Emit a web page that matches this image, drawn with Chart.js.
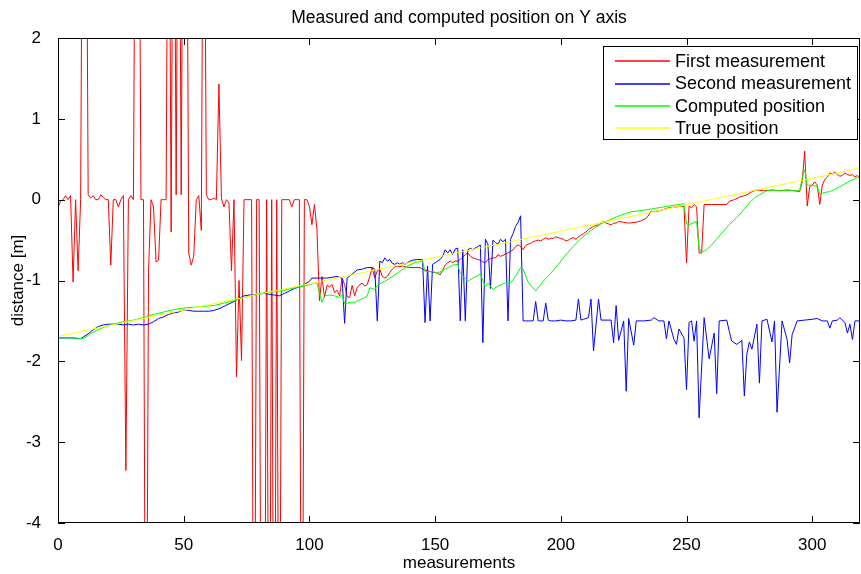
<!DOCTYPE html>
<html>
<head>
<meta charset="utf-8">
<script src="https://cdn.jsdelivr.net/npm/chart.js@4/dist/chart.umd.min.js"></script>
<style>
  html, body { margin: 0; padding: 0; background: #fff; }
  canvas { display: block; }
</style>
</head>
<body>
<canvas id="chart" width="861" height="574"></canvas>
<script>
const firstMeasurement = [
  [0,-0.1],[1,-0.02],[2,0],[3,0.05],[4,0],[5,0.05],[6,-1.02],[7,0],[8,-0.88],[9,0],
  [10,6],[11,6],[12,0.06],[13,0.02],[14,0.05],[15,0],[16,0],[17,0.06],[18,0.03],[19,0],
  [20,0],[21,-0.81],[22,0],[23,0],[24,-0.09],[25,0],[26,0.05],[27,-3.35],[28,0],[29,0.05],
  [30,0],[31,6],[32,6],[33,0],[34,0],[35,-8],[36,-0.9],[37,0],[38,-0.09],[39,-0.77],
  [40,-0.75],[41,0],[42,0],[43,0],[44,6],[45,-0.4],[46,6],[47,0.06],[48,6],[49,0.06],
  [50,6],[51,6],[52,-0.66],[53,-0.81],[54,-0.7],[55,0],[56,0.05],[57,-0.38],[58,6],[59,0.06],
  [60,0],[61,0],[62,0.02],[63,0],[64,1.43],[65,0.02],[66,-0.09],[67,0],[68,-0.04],[69,-0.88],
  [70,0],[71,-2.19],[72,-1.0],[73,-1.99],[74,0],[75,0],[76,0],[77,0],[78,-8],[79,0],
  [80,0],[81,-8],[82,-8],[83,0],[84,-8],[85,0],[86,-8],[87,0],[88,-8],[89,0],
  [90,0],[91,0],[92,0],[93,-0.09],[94,0],[95,0],[96,0],[97,-8],[98,0],[99,0],
  [100,-0.08],[101,-0.31],[102,-0.06],[103,-0.37],[104,-1.25],[105,-0.95],[106,-1.21],[107,-1.06],[108,-1.08],[109,-1.05],
  [110,-1.15],[111,-1.12],[112,-1.19],[113,-0.97],[114,-1.05],[115,-1.2],[116,-1.21],[117,-1.06],[118,-1.19],[119,-1.09],
  [120,-1.05],[121,-1.03],[122,-1.07],[123,-1.05],[124,-0.95],[125,-0.84],[126,-0.97],[127,-0.88],[128,-0.86],[129,-0.95],
  [130,-0.97],[131,-0.95],[132,-0.9],[133,-0.86],[134,-0.83],[135,-0.82],[136,-0.83],[137,-0.82],[138,-0.83],[140,-0.84],
  [142,-0.84],[144,-0.84],[145,-0.86],[146,-0.87],[148,-0.89],[150,-0.9],[151,-0.91],[152,-0.93],[153,-0.87],[154,-0.81],
  [155,-0.78],[156,-0.76],[157,-0.78],[158,-0.76],[159,-0.76],[160,-0.74],[161,-0.71],[162,-0.68],[163,-0.66],[164,-0.7],
  [165,-0.72],[166,-0.73],[167,-0.74],[168,-0.75],[169,-0.77],[170,-0.78],[171,-0.74],[172,-0.73],[173,-0.72],[174,-0.72],
  [175,-0.68],[176,-0.7],[177,-0.69],[178,-0.67],[179,-0.66],[180,-0.64],[181,-0.62],[182,-0.58],[183,-0.56],[184,-0.58],
  [185,-0.62],[186,-0.57],[187,-0.55],[188,-0.54],[189,-0.52],[190,-0.51],[191,-0.5],[192,-0.51],[193,-0.49],[194,-0.47],
  [195,-0.49],[196,-0.48],[197,-0.48],[198,-0.46],[199,-0.47],[200,-0.48],[201,-0.49],[202,-0.51],[203,-0.5],[204,-0.48],
  [205,-0.47],[206,-0.49],[207,-0.46],[208,-0.44],[209,-0.42],[210,-0.4],[211,-0.37],[212,-0.35],[213,-0.33],[214,-0.32],
  [215,-0.31],[216,-0.29],[217,-0.27],[218,-0.29],[219,-0.3],[220,-0.31],[221,-0.29],[222,-0.29],[223,-0.27],[225,-0.28],
  [227,-0.29],[230,-0.28],[232,-0.26],[234,-0.23],[235,-0.19],[236,-0.14],[237,-0.15],[239,-0.14],[241,-0.12],[243,-0.1],
  [246,-0.09],[248,-0.08],[249,-0.09],[250,-0.78],[251,-0.08],[252,-0.1],[253,-0.06],[254,-0.09],[255,-0.66],[256,-0.66],
  [257,-0.06],[260,-0.06],[263,-0.06],[266,-0.06],[267,-0.02],[269,0],[271,0.03],[274,0.06],[276,0.1],[278,0.12],
  [281,0.11],[284,0.12],[287,0.11],[290,0.12],[293,0.11],[295,0.1],[296,0.22],[297,0.6],[298,-0.08],[299,0.16],
  [300,0.18],[301,0.22],[302,0.18],[303,-0.06],[304,0.18],[305,0.25],[306,0.28],[307,0.33],[308,0.32],[309,0.34],
  [310,0.31],[311,0.29],[312,0.3],[313,0.33],[314,0.31],[315,0.3],[316,0.31],[317,0.28],[318,0.3],[319,0.26]
];

const secondMeasurement = [
  [0,-1.71],[2,-1.71],[4,-1.71],[6,-1.71],[8,-1.72],[9,-1.72],[10,-1.7],[12,-1.66],[14,-1.61],[16,-1.57],
  [18,-1.55],[20,-1.54],[22,-1.54],[24,-1.54],[26,-1.55],[28,-1.54],[30,-1.55],[32,-1.54],[34,-1.55],[36,-1.54],
  [38,-1.51],[40,-1.47],[42,-1.45],[44,-1.42],[46,-1.4],[48,-1.39],[50,-1.36],[52,-1.37],[54,-1.38],[56,-1.38],
  [58,-1.38],[60,-1.38],[62,-1.37],[64,-1.35],[66,-1.32],[68,-1.29],[70,-1.26],[72,-1.22],[74,-1.19],[76,-1.18],
  [78,-1.18],[80,-1.17],[82,-1.16],[84,-1.17],[86,-1.18],[88,-1.19],[90,-1.16],[92,-1.13],[94,-1.1],[96,-1.08],
  [98,-1.05],[100,-1.01],[101,-0.97],[103,-0.97],[105,-0.97],[107,-0.97],[109,-0.96],[111,-0.95],[113,-0.97],[114,-1.53],
  [115,-0.97],[117,-0.92],[119,-0.87],[121,-0.86],[123,-0.84],[125,-0.84],[126,-0.86],[127,-1.5],[128,-0.76],[129,-0.78],
  [130,-0.72],[131,-0.76],[132,-0.74],[133,-0.79],[134,-0.8],[135,-0.78],[136,-0.8],[137,-0.78],[138,-0.8],[139,-0.78],
  [140,-0.76],[141,-0.75],[143,-0.74],[145,-0.74],[146,-1.52],[147,-0.82],[148,-1.5],[149,-0.8],[150,-0.78],[151,-0.76],
  [152,-0.74],[153,-0.7],[154,-0.62],[155,-0.66],[156,-0.62],[157,-0.68],[158,-0.61],[159,-0.6],[160,-1.5],[161,-0.62],
  [162,-1.5],[163,-0.62],[164,-0.6],[165,-0.62],[166,-0.6],[167,-0.58],[168,-0.56],[169,-1.77],[170,-0.49],[171,-0.55],
  [172,-1.1],[173,-0.5],[174,-0.53],[175,-0.55],[176,-0.49],[177,-0.52],[178,-0.49],[179,-1.5],[180,-0.49],[181,-0.42],
  [182,-0.33],[183,-0.28],[184,-0.2],[185,-1.5],[186,-1.5],[187,-1.5],[188,-1.5],[189,-1.5],[190,-1.26],[191,-1.5],
  [192,-1.5],[193,-1.5],[194,-1.28],[195,-1.49],[196,-1.5],[198,-1.5],[200,-1.49],[202,-1.5],[204,-1.5],[206,-1.49],
  [207,-1.23],[208,-1.49],[209,-1.48],[210,-1.47],[211,-1.46],[212,-1.23],[213,-1.87],[215,-1.23],[216,-1.49],[218,-1.49],
  [220,-1.49],[221,-1.77],[222,-1.31],[223,-1.74],[225,-1.5],[226,-2.37],[227,-1.47],[229,-1.8],[230,-1.5],[233,-1.5],
  [236,-1.49],[237,-1.46],[239,-1.5],[241,-1.5],[242,-1.72],[243,-1.5],[245,-1.73],[246,-1.79],[247,-1.6],[249,-1.71],
  [250,-2.35],[251,-1.52],[252,-1.5],[253,-1.75],[254,-1.5],[255,-2.7],[257,-1.46],[259,-1.97],[261,-1.65],[262,-2.4],
  [263,-1.5],[266,-1.49],[267,-1.63],[268,-1.75],[270,-1.79],[272,-1.74],[273,-2.43],[274,-1.91],[275,-1.76],[276,-1.85],
  [278,-1.54],[279,-2.27],[280,-1.5],[282,-1.48],[284,-1.76],[285,-1.5],[286,-2.63],[288,-1.5],[290,-1.73],[291,-2.02],
  [292,-1.67],[294,-1.5],[297,-1.49],[300,-1.48],[302,-1.47],[304,-1.5],[306,-1.5],[307,-1.59],[308,-1.5],[310,-1.49],
  [311,-1.46],[313,-1.52],[314,-1.65],[315,-1.54],[316,-1.73],[317,-1.5],[319,-1.5]
];

const computedPosition = [
  [0,-1.71],[3,-1.71],[6,-1.71],[10,-1.72],[12,-1.68],[14,-1.64],[16,-1.61],[18,-1.58],[20,-1.56],[22,-1.54],
  [26,-1.51],[30,-1.49],[34,-1.46],[38,-1.42],[42,-1.39],[46,-1.36],[50,-1.34],[54,-1.33],[58,-1.32],[62,-1.31],
  [66,-1.28],[70,-1.25],[74,-1.21],[78,-1.18],[82,-1.15],[86,-1.14],[90,-1.12],[94,-1.09],[98,-1.07],[102,-1.03],
  [103,-1.03],[104,-1.15],[105,-1.27],[106,-1.19],[108,-1.18],[110,-1.19],[112,-1.21],[113,-1.17],[114,-1.29],[116,-1.27],
  [118,-1.27],[120,-1.24],[122,-1.21],[123,-1.19],[124,-1.09],[125,-1.1],[126,-1.11],[127,-1.06],[128,-1.04],[130,-1.01],
  [132,-0.97],[135,-0.91],[139,-0.82],[142,-0.78],[145,-0.76],[146,-0.89],[149,-0.89],[151,-0.91],[154,-0.86],[157,-0.81],
  [159,-0.8],[160,-0.91],[163,-1.01],[165,-0.97],[167,-0.94],[168,-0.92],[170,-1.08],[171,-1.03],[173,-1.11],[175,-1.07],
  [178,-1.03],[180,-1.03],[182,-0.95],[184,-0.84],[185,-0.86],[187,-1.02],[190,-1.13],[193,-1.01],[196,-0.91],[199,-0.8],
  [201,-0.72],[204,-0.61],[208,-0.48],[212,-0.38],[216,-0.3],[220,-0.24],[224,-0.19],[228,-0.15],[233,-0.13],[237,-0.11],
  [241,-0.09],[245,-0.07],[249,-0.05],[250,-0.3],[251,-0.31],[254,-0.27],[255,-0.6],[256,-0.65],[258,-0.62],[260,-0.56],
  [263,-0.45],[267,-0.31],[271,-0.19],[275,-0.04],[277,0.02],[279,0.06],[282,0.11],[286,0.11],[290,0.11],[295,0.11],
  [296,0.27],[297,0.37],[298,0.18],[300,0.18],[302,0.16],[303,0.07],[305,0.09],[307,0.1],[311,0.16],[315,0.23],
  [319,0.29]
];

const truePosition = [[0,-1.69],[100,-1.04],[200,-0.39],[319,0.39]];

const seriesNames = ['First measurement', 'Second measurement', 'Computed position', 'True position'];
const seriesColors = ['#ff0000', '#0000ff', '#00ff00', '#ffff00'];
const seriesData = [firstMeasurement, secondMeasurement, computedPosition, truePosition];

const xTicks = [0, 50, 100, 150, 200, 250, 300];
const yTicks = [-4, -3, -2, -1, 0, 1, 2];

const FONT = '"Liberation Sans", Arial, Helvetica, sans-serif';

// --- 축 테두리, 안쪽 눈금, 범례 ---
const matlabFrame = {
  id: 'matlabFrame',
  afterDraw(chart) {
    const { ctx, chartArea: a, scales } = chart;
    ctx.save();
    ctx.strokeStyle = '#000';
    ctx.lineWidth = 1;
    ctx.beginPath();
    ctx.rect(Math.round(a.left) + 0.5, Math.round(a.top) + 0.5,
      Math.round(a.right - a.left) - 1, Math.round(a.bottom - a.top) - 1);
    ctx.stroke();

    const tl = 7;
    ctx.beginPath();
    xTicks.forEach(v => {
      const px = Math.round(scales.x.getPixelForValue(v)) + 0.5;
      ctx.moveTo(px, a.bottom); ctx.lineTo(px, a.bottom - tl);
      ctx.moveTo(px, a.top); ctx.lineTo(px, a.top + tl);
    });
    yTicks.forEach(v => {
      const py = Math.round(scales.y.getPixelForValue(v)) + 0.5;
      ctx.moveTo(a.left, py); ctx.lineTo(a.left + tl, py);
      ctx.moveTo(a.right, py); ctx.lineTo(a.right - tl, py);
    });
    ctx.stroke();

    // 범례
    const lx = 603.5, ly = 46.5, lw = 254, lh = 93;
    ctx.fillStyle = '#fff';
    ctx.fillRect(lx, ly, lw, lh);
    ctx.strokeRect(lx, ly, lw, lh);
    ctx.font = '18px ' + FONT;
    ctx.textBaseline = 'middle';
    ctx.textAlign = 'left';
    const rows = [61, 83.5, 106, 128];
    seriesNames.forEach((name, i) => {
      const y = Math.round(rows[i]);
      ctx.strokeStyle = seriesColors[i];
      ctx.lineWidth = 1.5;
      ctx.beginPath();
      ctx.moveTo(615, y); ctx.lineTo(670, y);
      ctx.stroke();
      ctx.fillStyle = '#000';
      ctx.fillText(name, 675, rows[i] + 1);
    });
    ctx.restore();
  }
};

const ctx = document.getElementById('chart').getContext('2d');
new Chart(ctx, {
  type: 'line',
  data: {
    datasets: seriesData.map((d, i) => ({
      label: seriesNames[i],
      data: d.map(p => ({ x: p[0], y: p[1] })),
      borderColor: seriesColors[i],
      backgroundColor: seriesColors[i],
      borderWidth: 1,
      pointRadius: 0,
      tension: 0,
      fill: false,
      order: 4 - i
    }))
  },
  options: {
    responsive: false,
    animation: false,
    devicePixelRatio: 1,
    layout: { padding: { left: 0, right: 1, top: 0, bottom: 0 } },
    plugins: {
      legend: { display: false },
      tooltip: { enabled: false },
      title: {
        display: true,
        text: 'Measured and computed position on Y axis',
        fullSize: false,
        color: '#000',
        font: { family: FONT, size: 17.5, weight: 'normal' },
        padding: { top: 8, bottom: 9 }
      }
    },
    scales: {
      x: {
        type: 'linear',
        min: 0, max: 319,
        afterBuildTicks: s => { s.ticks = xTicks.map(v => ({ value: v })); },
        afterFit: s => { s.height = 51; },
        ticks: { color: '#000', font: { family: FONT, size: 17 }, padding: 4, maxRotation: 0 },
        grid: { display: false },
        border: { display: false },
        title: {
          display: true, text: 'measurements', color: '#000',
          font: { family: FONT, size: 17 }, padding: { top: 0, bottom: 0 }
        }
      },
      y: {
        type: 'linear',
        min: -4, max: 2,
        afterBuildTicks: s => { s.ticks = yTicks.map(v => ({ value: v })); },
        afterFit: s => { s.width = 58; },
        ticks: { color: '#000', font: { family: FONT, size: 17 }, padding: 9 },
        grid: { display: false },
        border: { display: false },
        title: {
          display: true, text: 'distance [m]', color: '#000',
          font: { family: FONT, size: 17 }, padding: { top: 8, bottom: 0 }
        }
      }
    }
  },
  plugins: [matlabFrame]
});
</script>
</body>
</html>
